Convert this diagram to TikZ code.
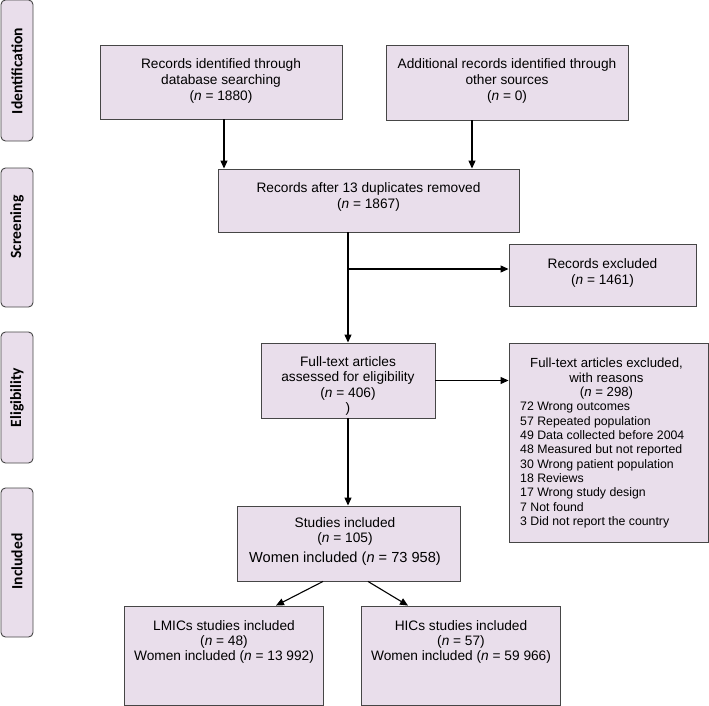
\documentclass[tikz,border=0pt]{standalone}
\usepackage{fontspec}
\setmainfont{Liberation Sans}
\newfontfamily\phasefont{Carlito}
\usetikzlibrary{arrows.meta}
\definecolor{boxfill}{RGB}{233,222,235}
\definecolor{boxline}{RGB}{70,70,70}
\tikzset{
  box/.style={draw=boxline, fill=boxfill, line width=0.9pt, inner sep=0pt, rectangle},
  phase/.style={draw=boxline, fill=boxfill, line width=0.9pt, inner sep=0pt, rounded corners=4.5pt, rectangle, minimum width=32pt},
  phasetext/.style={rotate=90, font=\phasefont\bfseries\fontsize{15.6}{18}\selectfont, inner sep=0pt},
  txt/.style={align=center, inner sep=0pt, font=\fontsize{13.7}{16}\selectfont},
  arr/.style={line width=1.1pt, -{Triangle[length=8pt,width=7pt]}},
}
\begin{document}
\begin{tikzpicture}[x=1pt,y=-1pt]
\useasboundingbox (0,0) rectangle (709,706);
% phase boxes
\node[phase, minimum height=141pt] (pid) at (17,70.5) {};
\node[phasetext] (tid) at (17,71) {Identification};
\node[phase, minimum height=139pt] (psc) at (17,237.5) {};
\node[phasetext] (tsc) at (17,227) {Screening};
\node[phase, minimum height=131pt] (pel) at (17,397.5) {};
\node[phasetext] (tel) at (17,397.5) {Eligibility};
\node[phase, minimum height=149pt] (pin) at (17,562.5) {};
\node[phasetext] (tin) at (17,561.5) {Included};
% boxes
\node[box, minimum width=242pt, minimum height=74pt] (b1) at (221,82) {};
\node[txt] (t1) at (221,81) {Records identified through\\database searching\\(\textit{n} = 1880)};
\node[box, minimum width=242pt, minimum height=75pt] (b2) at (507,82.5) {};
\node[txt] (t2) at (507,81) {Additional records identified through\\other sources\\(\textit{n} = 0)};
\node[box, minimum width=301pt, minimum height=63pt] (b3) at (368.5,200.5) {};
\node[txt] (t3) at (368.5,196.5) {Records after 13 duplicates removed\\(\textit{n} = 1867)};
\node[box, minimum width=187pt, minimum height=62pt] (b4) at (602.5,275) {};
\node[txt] (t4) at (602.5,272.5) {Records excluded\\(\textit{n} = 1461)};
\node[box, minimum width=174pt, minimum height=75pt] (b5) at (348,380.5) {};
\node[txt, font=\fontsize{13.7}{15.5}\selectfont] (t5) at (348,386) {Full-text articles\\assessed for eligibility\\(\textit{n} = 406)\\)};
\node[box, minimum width=199pt, minimum height=199pt] (b6) at (608.5,442.5) {};
\node[txt, font=\fontsize{13.2}{14.5}\selectfont] (t6a) at (606.5,379) {Full-text articles excluded,\\with reasons\\(\textit{n} = 298)};
\node[align=left, inner sep=0pt, font=\fontsize{12.3}{14.35}\selectfont, anchor=north west] (t6b) at (520,402) {72 Wrong outcomes\\57 Repeated population\\49 Data collected before 2004\\48 Measured but not reported\\30 Wrong patient population\\18 Reviews\\17 Wrong study design\\7 Not found\\3 Did not report the country};
\node[box, minimum width=223pt, minimum height=75pt] (b7) at (348.5,543.5) {};
\node[txt, font=\fontsize{13.7}{15}\selectfont] (t7) at (345,542) {Studies included\\(\textit{n} = 105)\\[5pt]{\fontsize{14.6}{16}\selectfont Women included (\textit{n} = 73 958)}};
\node[box, minimum width=199pt, minimum height=99pt] (b8) at (223.5,655.5) {};
\node[txt, font=\fontsize{13.7}{15}\selectfont] (t8) at (224,642) {LMICs studies included\\(\textit{n} = 48)\\Women included (\textit{n} = 13 992)};
\node[box, minimum width=199pt, minimum height=99pt] (b9) at (460.5,655.5) {};
\node[txt, font=\fontsize{13.7}{15}\selectfont] (t9) at (461,642) {HICs studies included\\(\textit{n} = 57)\\Women included (\textit{n} = 59 966)};
% connectors
\draw[arr] ([xshift=3pt]b1.south) -- ([xshift=3pt]b1.south |- b3.north);
\draw[arr] ([xshift=-35pt]b2.south) -- ([xshift=-35pt]b2.south |- b3.north);
\draw[arr] (b5.north |- b3.south) -- (b5.north);
\coordinate (br) at (348,269);
\draw[arr] (br) -- (br -| b4.west);
\draw[arr] (b5.east) -- (b5.east -| b6.west);
\draw[arr] (b5.south) -- (b5.south |- b7.north);
\draw[arr] ([xshift=-25.5pt]b7.south) -- ([xshift=52.5pt]b8.north);
\draw[arr] ([xshift=19.5pt]b7.south) -- ([xshift=-52.5pt]b9.north);
\end{tikzpicture}
\end{document}
